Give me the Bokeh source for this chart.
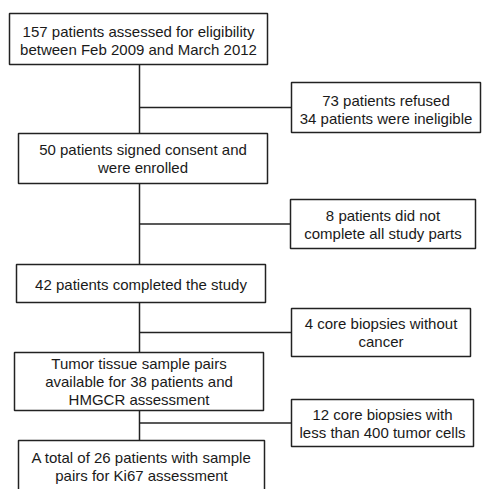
from bokeh.plotting import figure
from bokeh.models import Range1d, ColumnDataSource
from bokeh.core.properties import value
from bokeh.embed import file_html
from bokeh.resources import INLINE

# ---- data: box texts ----
main_box_lines = [
    ["157 patients assessed for eligibility", "between Feb 2009 and March 2012"],
    ["50 patients signed consent and", "were enrolled"],
    ["42 patients completed the study"],
    ["Tumor tissue sample pairs", "available for 38 patients and", "HMGCR assessment"],
    ["A total of 26 patients with sample", "pairs for Ki67 assessment"],
]
side_box_lines = [
    ["73 patients refused", "34 patients were ineligible"],
    ["8 patients did not", "complete all study parts"],
    ["4 core biopsies without", "cancer"],
    ["12 core biopsies with", "less than 400 tumor cells"],
]

# ---- layout (pixels, y downward) ----
W, H = 482, 489
main_left = [9, 18, 16, 14, 18]
main_right = [267, 267, 265, 263, 264]
main_top = [13, 133, 264, 352, 440]
main_bottom = [64, 183, 302, 410, 500]
main_text_cy = [40, 158, 283.5, 381, 466]
side_left = [291, 290, 291, 291]
side_right = [480, 475, 470, 473]
side_top = [82, 199, 308, 399]
side_bottom = [132, 248, 356, 446]
side_text_cy = [108.5, 223.5, 332, 422.5]
spine_x = 139
line_gap = 18
FONT = "Liberation Sans"
FS = "15px"
EDGE = "#222222"

p = figure(width=W, height=H, x_range=Range1d(0, W), y_range=Range1d(H, 0),
           x_axis_type=None, y_axis_type=None, toolbar_location=None,
           output_backend="svg", min_border=0)
p.grid.visible = False
p.outline_line_color = None
p.background_fill_color = "white"
p.border_fill_color = "white"

# vertical spine segments between main boxes
p.segment(x0=[spine_x] * 4, y0=main_bottom[:-1], x1=[spine_x] * 4, y1=main_top[1:],
          line_color=EDGE, line_width=1.5)
# horizontal connectors to side boxes
side_cy = [(t + b) / 2 for t, b in zip(side_top, side_bottom)]
p.segment(x0=[spine_x] * 4, y0=side_cy, x1=side_left, y1=side_cy,
          line_color=EDGE, line_width=1.5)

# boxes
p.quad(left=main_left, right=main_right, top=main_top, bottom=main_bottom,
       fill_color="white", line_color=EDGE, line_width=1.5)
p.quad(left=side_left, right=side_right, top=side_top, bottom=side_bottom,
       fill_color="white", line_color=EDGE, line_width=1.5)

# texts
tx, ty, tt = [], [], []
def add_lines(lines, l, r, cy):
    cx = (l + r) / 2
    n = len(lines)
    for i, s in enumerate(lines):
        tx.append(cx)
        ty.append(cy + (i - (n - 1) / 2) * line_gap)
        tt.append(s)

for i, lines in enumerate(main_box_lines):
    add_lines(lines, main_left[i], main_right[i], main_text_cy[i])
for i, lines in enumerate(side_box_lines):
    add_lines(lines, side_left[i], side_right[i], side_text_cy[i])

src = ColumnDataSource(dict(x=tx, y=ty, text=tt))
p.text(x="x", y="y", text="text", source=src, text_align="center",
       text_baseline="middle", text_font=value(FONT), text_font_size=FS,
       text_color="#1a1a1a")

open("out.html", "w").write(file_html(p, INLINE))
